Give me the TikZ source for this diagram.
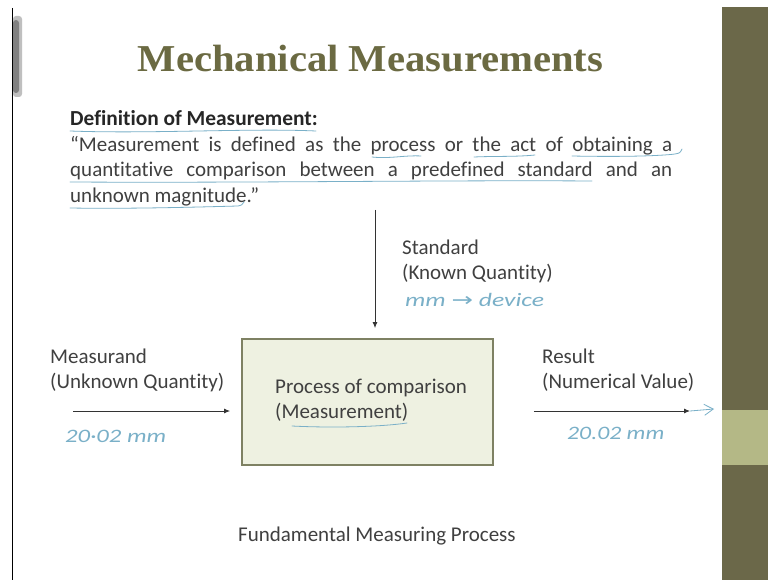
\documentclass[tikz,border=0pt]{standalone}
\usepackage{fontspec}
\setmainfont{Carlito}[Ligatures={NoCommon,NoContextual}]
\newfontfamily\titlefont{Liberation Serif}
\newfontfamily\symfont{DejaVu Sans}
\usetikzlibrary{arrows.meta}
\definecolor{txt}{HTML}{404040}
\definecolor{olive}{HTML}{6B6A42}
\definecolor{bardark}{HTML}{6B6849}
\definecolor{barlight}{HTML}{B4B886}
\definecolor{boxfill}{HTML}{EEF1E1}
\definecolor{boxline}{HTML}{7E8163}
\definecolor{ink}{HTML}{7AB0C8}
\begin{document}
\begin{tikzpicture}[x=1pt,y=-1pt,
  lbl/.style={anchor=base west, inner sep=0pt, text=txt, font=\fontsize{21}{25}\selectfont},
  hand/.style={anchor=base west, inner sep=0pt, text=ink, font=\fontsize{19}{19}\selectfont\itshape},
  handline/.style={draw=ink, line width=0.8pt, line cap=round},
  conn/.style={draw=black!80, line width=0.9pt, -{Latex[length=6pt,width=5pt]}}]
\useasboundingbox (0,0) rectangle (768,580);
\fill[white] (0,0) rectangle (768,580);
% slide frame
\fill[bardark] (722,7) rectangle (768,580);
\fill[barlight] (722,410) rectangle (768,465);
\draw[black, line width=1pt] (12.5,8) -- (12.5,580);
\fill[black!25, rounded corners=3pt] (13,16) rectangle (22,97);
\fill[black!50, rounded corners=3pt] (13,20) rectangle (19,93);
% title
\node (title) at (370.5,72) [anchor=base, inner sep=0pt, text=olive, font=\titlefont\bfseries\fontsize{38}{38}\selectfont] {\scalebox{1.07}[1]{Mechanical Measurements}};
% definition
\node (defh) at (70,126) [lbl, text=black!85, font=\bfseries\fontsize{21.4}{21}\selectfont] {Definition of Measurement:};
\node (q1) at (70,152) [lbl] {\makebox[602pt][s]{“Measurement is defined as the process or the act of obtaining a}};
\node (q2) at (70,177) [lbl] {\makebox[602pt][s]{quantitative comparison between a predefined standard and an}};
\node (q3) at (70,203) [lbl] {unknown magnitude.”};
% handwritten underlines
\draw[handline] (70,131) .. controls (150,134) and (250,128) .. (316,131);
\draw[handline] (372,157) .. controls (390,159) and (405,155) .. (421,156);
\draw[handline] (474,157) .. controls (495,156) and (515,157) .. (535,155);
\draw[handline] (572,156) .. controls (620,157) and (660,156) .. (675,154) .. controls (680,153) .. (682,149);
\draw[handline] (70,182) .. controls (250,183) and (450,180) .. (592,181);
\draw[handline] (70,208) .. controls (130,209) and (200,207) .. (238,206) .. controls (242,205) .. (244,202);
% process box
\node (proc) at (367.5,402) [draw=boxline, line width=1.8pt, fill=boxfill, minimum width=251pt, minimum height=126pt, inner sep=0pt] {};
\node (p1) at (275,393) [lbl] {Process of comparison};
\node (p2) at (275,418) [lbl] {(Measurement)};
\draw[handline] (292,426) .. controls (330,428) and (380,427) .. (407,423);
% standard
\coordinate (stdtop) at (375,210);
\draw[conn, shorten >=10pt] (stdtop) -- (stdtop |- proc.north);
\node (s1) at (402,254) [lbl] {Standard};
\node (s2) at (402,279) [lbl] {(Known Quantity)};
\node (s3) at (405,306) [hand] {\scalebox{1.35}[1]{mm {\symfont\upshape →} device}};
% measurand
\node (m1) at (50,363) [lbl] {Measurand};
\node (m2) at (50,388) [lbl] {(Unknown Quantity)};
\coordinate (inL) at (73,411);
\draw[conn, shorten >=11pt] (inL) -- (inL -| proc.west);
\node (m3) at (65,442) [hand] {\scalebox{1.3}[1]{20·02 mm}};
% result
\node (r1) at (542,363) [lbl] {Result};
\node (r2) at (542,388) [lbl] {(Numerical Value)};
\coordinate (outR) at (690,411);
\coordinate (outR2) at (714,409);
\draw[conn, shorten <=40pt] (proc.east |- outR) -- (outR);
\draw[handline, -{Straight Barb[length=9pt,width=11pt]}] (outR) -- (outR2);
\node (r3) at (567,439) [hand] {\scalebox{1.25}[1]{20.02 mm}};
% caption
\node (cap) at (238,541) [lbl] {Fundamental Measuring Process};
\end{tikzpicture}
\end{document}
